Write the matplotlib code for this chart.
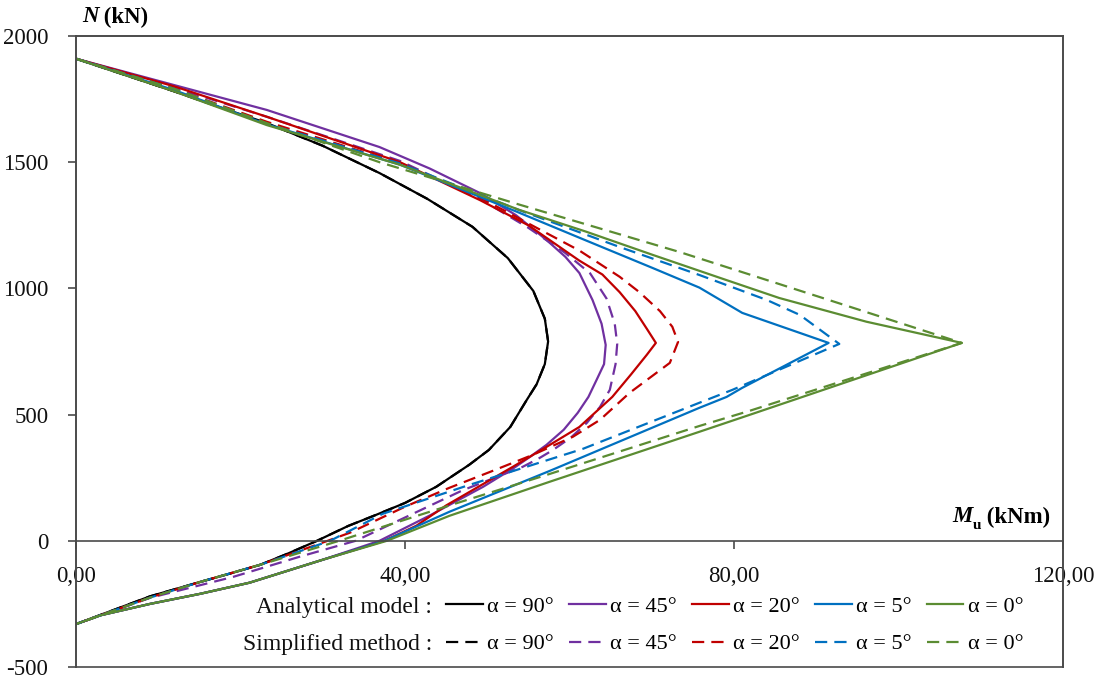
import matplotlib
matplotlib.use("Agg")
import matplotlib.pyplot as plt

plt.rcParams['font.family'] = ['Liberation Serif', 'DejaVu Serif']

W, H = 1105, 681

# ---------------- data (M in kNm, N in kN) ----------------
ana90_M = [0, 6, 12, 18, 23.2, 30.0, 36.9, 42.7, 48.2, 52.5, 55.6, 57.0, 57.4, 57.0, 56.0, 54.8, 52.8, 50.2, 47.8, 43.8, 40.0, 36.5, 33.1, 29.3, 25.8, 22.4, 18.7, 15.1, 9.0, 4.5, 0]
ana90_N = [1910, 1845, 1780, 1712, 1655, 1565, 1457, 1355, 1244, 1120, 990, 880, 790, 700, 620, 558, 451, 360, 301, 214, 150, 103, 59, 0, -50, -95, -130, -163, -220, -275, -330]
sim90_M = list(ana90_M)
sim90_N = list(ana90_N)

ana45_M = [0, 12, 23.2, 36.9, 43.0, 49.1, 53.5, 57.2, 59.5, 61.2, 62.8, 63.9, 64.4, 64.2, 63.3, 62.3, 61.0, 59.3, 57.2, 55.3, 53.3, 49.5, 43.0, 36.9, 30.0, 21.1, 15.1, 9.0, 3.0, 0]
ana45_N = [1910, 1805, 1707, 1560, 1475, 1378, 1290, 1192, 1125, 1061, 954, 860, 776, 700, 638, 570, 507, 440, 380, 335, 290, 214, 100, 0, -75, -166, -210, -250, -295, -330]
sim45_M = [0, 12, 23.2, 39.4, 49.1, 55.0, 59.5, 62.5, 64.5, 65.5, 65.8, 65.6, 64.9, 63.7, 62.1, 60.2, 58.0, 56.2, 54.3, 47.0, 40.5, 34.0, 27.2, 19.1, 9.0, 0]
sim45_N = [1910, 1795, 1680, 1505, 1355, 1240, 1140, 1060, 960, 860, 780, 700, 598, 530, 467, 410, 360, 325, 293, 200, 100, 0, -63, -143, -226, -330]

ana20_M = [0, 12, 23.2, 39.4, 49.1, 55.0, 61.2, 64.0, 66.1, 68.0, 69.4, 70.5, 69.4, 67.5, 65.2, 61.2, 57.2, 53.1, 49.5, 45.0, 41.4, 37.5, 30.0, 21.1, 15.1, 9.0, 3.0, 0]
ana20_N = [1910, 1800, 1680, 1500, 1350, 1250, 1110, 1055, 985, 910, 840, 784, 737, 660, 570, 451, 372, 293, 225, 140, 60, 0, -75, -166, -210, -250, -295, -330]
sim20_M = [0, 12, 23.2, 39.4, 49.1, 56.0, 61.2, 66.1, 68.5, 71.0, 72.5, 73.2, 72.2, 67.3, 63.7, 60.4, 55.5, 50.5, 45.4, 40.0, 33.3, 30.6, 22.4, 15.1, 9.0, 0]
sim20_N = [1910, 1790, 1660, 1495, 1360, 1240, 1150, 1046, 985, 910, 848, 788, 705, 586, 479, 412, 340, 275, 210, 135, 32, 0, -95, -163, -225, -330]

ana5_M = [0, 12, 23.2, 39.4, 53.5, 62.0, 70.1, 75.8, 81.0, 91.5, 81.0, 79.1, 75.8, 57.6, 45.4, 37.5, 30.0, 21.1, 15.1, 9.0, 3.0, 0]
ana5_N = [1910, 1785, 1650, 1490, 1305, 1190, 1081, 1003, 903, 784, 606, 570, 527, 277, 115, 0, -75, -166, -210, -250, -295, -330]
sim5_M = [0, 12, 23.2, 39.4, 53.9, 66.1, 75.8, 84.0, 88.0, 92.8, 79.8, 75.8, 61.6, 47.5, 37.3, 30.9, 22.4, 15.1, 9.0, 0]
sim5_N = [1910, 1790, 1652, 1495, 1310, 1164, 1053, 954, 895, 780, 598, 547, 364, 218, 107, 0, -95, -163, -225, -330]

ana0_M = [0, 12, 23.2, 39.4, 53.9, 62.0, 70.1, 78.0, 85.5, 96.1, 107.7, 81.9, 75.8, 57.6, 45.4, 37.8, 30.0, 21.1, 15.1, 9.0, 3.0, 0]
ana0_N = [1910, 1780, 1647, 1490, 1311, 1225, 1133, 1045, 962, 868, 784, 499, 432, 234, 99, 0, -75, -166, -210, -250, -295, -330]
sim0_M = [0, 12, 23.2, 36.9, 53.9, 73.4, 90.4, 107.7, 81.9, 75.8, 57.6, 45.4, 32.0, 22.4, 15.1, 9.0, 0]
sim0_N = [1910, 1790, 1655, 1500, 1332, 1144, 966, 784, 515, 455, 265, 140, 0, -95, -163, -225, -330]

angle_labels = ["α = 90°", "α = 45°", "α = 20°", "α = 5°", "α = 0°"]
row_labels = ["Analytical model :", "Simplified method :"]
x_ticks = [0, 40, 80, 120]
x_ticklabels = ["0,00", "40,00", "80,00", "120,00"]
y_ticks = [-500, 0, 500, 1000, 1500, 2000]

colors = ['#000000', '#7030A0', '#C00000', '#0070C0', '#5B8C32']

# ---------------- figure ----------------
fig = plt.figure(figsize=(W / 100, H / 100), dpi=100)
ax_rect = [76 / W, 1 - 667 / H, (1063 - 76) / W, (667 - 36) / H]
ax = fig.add_axes(ax_rect)

analytical = [(ana90_M, ana90_N), (ana45_M, ana45_N), (ana20_M, ana20_N), (ana5_M, ana5_N), (ana0_M, ana0_N)]
simplified = [(sim90_M, sim90_N), (sim45_M, sim45_N), (sim20_M, sim20_N), (sim5_M, sim5_N), (sim0_M, sim0_N)]

lw = 1.6
handles = []
labels = []
for i in range(5):
    (la,) = ax.plot(analytical[i][0], analytical[i][1], color=colors[i], lw=lw,
                    solid_joinstyle='round')
    (ls,) = ax.plot(simplified[i][0], simplified[i][1], color=colors[i], lw=lw,
                    linestyle=(0, (5.5, 3.2)), dash_capstyle='butt')
    handles += [la, ls]
    labels += [angle_labels[i], angle_labels[i]]

ax.set_xlim(0, 120)
ax.set_ylim(-500, 2000)

spine_col = '#4a4a4a'
for s in ['left', 'right', 'top', 'bottom']:
    ax.spines[s].set_color(spine_col)
    ax.spines[s].set_linewidth(1.2)
ax.spines['bottom'].set_position(('data', 0))

ax.set_xticks(x_ticks)
ax.set_xticklabels(x_ticklabels)
ax.set_yticks(y_ticks)
ax.set_yticklabels([str(v) for v in y_ticks])
ax.tick_params(axis='both', direction='out', length=6, width=1.2, color=spine_col,
               labelsize=16.5, labelcolor='#111111')
ax.tick_params(axis='x', pad=12)
ax.tick_params(axis='y', pad=14)

# frame (bottom edge at y = -500)
frame = fig.add_axes(ax_rect, facecolor='none')
frame.set_xticks([])
frame.set_yticks([])
for s in ['left', 'right', 'top', 'bottom']:
    frame.spines[s].set_color(spine_col)
    frame.spines[s].set_linewidth(1.2)

# axis titles
tN = fig.text(82 / W, 1 - 17 / H, 'N', style='italic', weight='bold', fontsize=16.5,
              ha='left', va='center')
ax.annotate(' (kN)', xy=(1, 0.5), xycoords=tN, ha='left', va='center',
            weight='bold', fontsize=16.5, annotation_clip=False)

tkNm = fig.text(1050 / W, 1 - 517 / H, ' (kNm)', weight='bold', fontsize=16.5,
                ha='right', va='center')
tu = ax.annotate('u', xy=(0, 0.12), xycoords=tkNm, ha='right', va='center',
                 weight='bold', fontsize=11, annotation_clip=False)
ax.annotate('M', xy=(0, 0.5), xycoords=(tu, tkNm), ha='right', va='center',
            style='italic', weight='bold', fontsize=16.5, annotation_clip=False)

# legend
leg = ax.legend(handles, labels, ncol=5, loc='upper left',
                bbox_to_anchor=(446 / W, 1 - 596 / H), bbox_transform=fig.transFigure,
                frameon=False, fontsize=16, handlelength=1.65, handletextpad=0.2,
                columnspacing=0.68, labelspacing=0.78, borderpad=0, borderaxespad=0)

fig.canvas.draw()
r = fig.canvas.get_renderer()
texts = leg.get_texts()
hl = leg.legend_handles
for k, lab in enumerate(row_labels):
    hb = hl[k].get_window_extent(r)
    tb = texts[k].get_window_extent(r)
    ycen = (tb.y0 + tb.y1) / 2
    fig.text((hb.x0 - 14) / W, ycen / H, lab, ha='right', va='center', fontsize=17,
             color='#111111')

fig.savefig('out.png', dpi=100)
